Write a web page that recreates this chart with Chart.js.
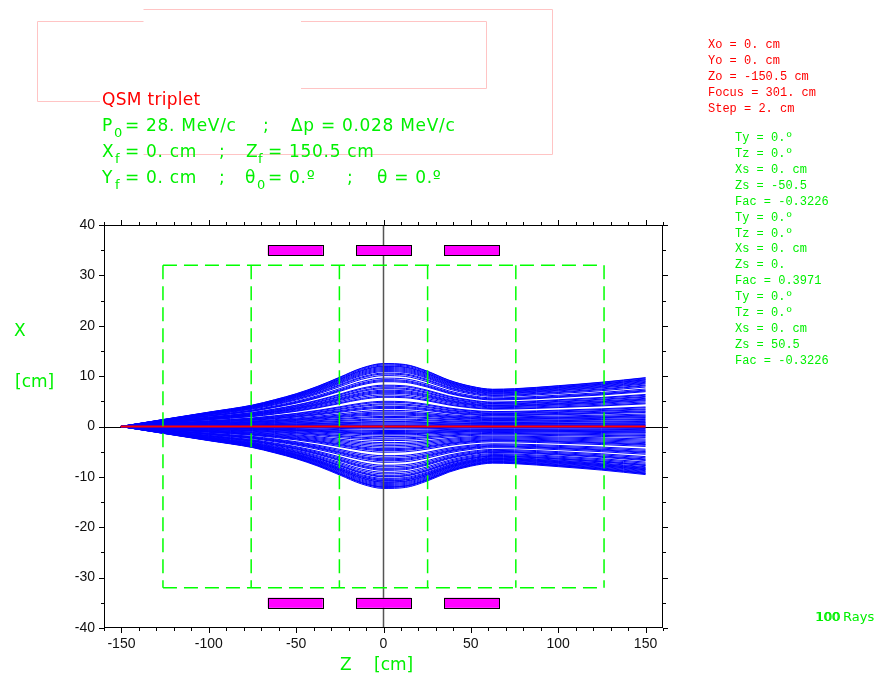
<!DOCTYPE html>
<html>
<head>
<meta charset="utf-8">
<script src="https://cdn.jsdelivr.net/npm/chart.js@4/dist/chart.umd.min.js"></script>
<style>
  html, body { margin: 0; padding: 0; background: #fff; }
</style>
</head>
<body>
<canvas id="chart" width="883" height="680"></canvas>
<script>
const zPoints = [-150.5, -125, -100, -75, -62.5, -50, -37.5, -25, -12.5, 0, 12.5, 25, 37.5, 50, 62.5, 75, 100, 125, 150];
// outermost ray X (cm) at those Z
const envelope = [0, 1.45, 2.85, 4.25, 5.3, 6.5, 8.0, 9.8, 11.6, 12.5, 12.3, 11.0, 9.2, 8.0, 7.4, 7.5, 8.1, 8.8, 9.7];
// X of each ray at Z = 0
const upperPeaks = [12.5, 12.4, 12.2, 12.0, 11.9, 11.7, 11.5, 11.3, 11.1, 10.9, 10.6, 10.4, 10.1, 9.6, 9.3, 9.1, 8.9, 8.2, 8.0, 7.7,
  7.5, 7.2, 7.0, 6.8, 6.6, 6.3, 6.0, 5.8, 5.0, 4.8, 4.5, 4.3, 4.0, 3.8, 3.6, 3.2, 2.9, 2.7, 2.5, 2.3,
  2.0, 1.8, 1.5, 1.3, 1.0, 0.9, 0.7, 0.5, 0.3, 0.2];
const lowerPeaks = [-0.1, -0.3, -0.5, -0.8, -1.0, -1.2, -1.4, -1.5, -1.7, -2.0, -2.3, -2.5, -2.8, -3.2, -3.5, -3.8, -4.1, -4.4, -4.6, -4.8,
  -5.1, -5.8, -6.1, -6.4, -6.6, -6.8, -7.1, -7.7, -8.0, -8.3, -8.5, -8.7, -9.1, -9.4, -9.7, -9.9, -10.0, -10.3, -10.5, -10.7,
  -10.8, -11.0, -11.1, -11.3, -11.5, -11.7, -11.9, -12.0, -12.1, -12.3];
const centralRay = [[-150.5, 0], [150, 0]];

// tick labels
const xTicks = [-150, -100, -50, 0, 50, 100, 150];
const yTicks = [-40, -30, -20, -10, 0, 10, 20, 30, 40];

// quadrupoles
const quadCenters = [-50.5, 0, 50.5];
const quadHalfLength = 15.75;
const fieldHalfLength = 75.75;
const apertureX = 32;
const poleInner = 34, poleOuter = 36;

// side text
const sourceLines = ['Xo = 0. cm', 'Yo = 0. cm', 'Zo = -150.5 cm', 'Focus = 301. cm', 'Step = 2. cm'];
const quadLines = ['Ty = 0.º', 'Tz = 0.º', 'Xs = 0. cm', 'Zs = -50.5', 'Fac = -0.3226',
  'Ty = 0.º', 'Tz = 0.º', 'Xs = 0. cm', 'Zs = 0.', 'Fac = 0.3971',
  'Ty = 0.º', 'Tz = 0.º', 'Xs = 0. cm', 'Zs = 50.5', 'Fac = -0.3226'];

const GREEN = '#00f000';
const peakAtZero = envelope[zPoints.indexOf(0)];

function rayData(peak) {
  return zPoints.map((z, i) => ({ x: z, y: envelope[i] * peak / peakAtZero }));
}

const datasets = [];
upperPeaks.concat(lowerPeaks).forEach(p => {
  datasets.push({
    data: rayData(p),
    borderColor: '#0000ff',
    borderWidth: 1,
    pointRadius: 0,
    cubicInterpolationMode: 'monotone'
  });
});
datasets.push({
  data: centralRay.map(p => ({ x: p[0], y: p[1] })),
  borderColor: '#ff0000',
  borderWidth: 2,
  pointRadius: 0,
  order: -1
});

function txt(ctx, s, x, y, font, color, align, spacing) {
  ctx.font = font;
  ctx.fillStyle = color;
  ctx.textAlign = align || 'left';
  ctx.textBaseline = 'middle';
  ctx.letterSpacing = spacing || '0px';
  ctx.fillText(s, x, y);
}

const beamPlugin = {
  id: 'beam',
  beforeDatasetsDraw(chart) {
    const { ctx, chartArea: a, scales: { x, y } } = chart;
    ctx.save();
    ctx.strokeStyle = '#000';
    ctx.lineWidth = 1;
    const y0 = Math.round(y.getPixelForValue(0)) + 0.5;
    ctx.beginPath(); ctx.moveTo(a.left, y0); ctx.lineTo(a.right, y0); ctx.stroke();
    ctx.restore();
  },
  afterDatasetsDraw(chart) {
    const { ctx, chartArea: a, scales: { x, y } } = chart;
    ctx.save();
    // z = 0 line
    ctx.strokeStyle = '#555';
    ctx.lineWidth = 1.5;
    const x0 = x.getPixelForValue(0);
    ctx.beginPath(); ctx.moveTo(x0, a.top); ctx.lineTo(x0, a.bottom); ctx.stroke();

    // field boundaries (green dashed)
    ctx.strokeStyle = '#00ff00';
    ctx.lineWidth = 1.5;
    ctx.setLineDash([14, 7]);
    const zMin = quadCenters[0] - fieldHalfLength, zMax = quadCenters[quadCenters.length - 1] + fieldHalfLength;
    [apertureX, -apertureX].forEach(v => {
      ctx.beginPath();
      ctx.moveTo(x.getPixelForValue(zMin), y.getPixelForValue(v));
      ctx.lineTo(x.getPixelForValue(zMax), y.getPixelForValue(v));
      ctx.stroke();
    });
    quadCenters.forEach(c => {
      [c - fieldHalfLength, c + fieldHalfLength].forEach(z => {
        ctx.beginPath();
        ctx.moveTo(x.getPixelForValue(z), y.getPixelForValue(apertureX));
        ctx.lineTo(x.getPixelForValue(z), y.getPixelForValue(-apertureX));
        ctx.stroke();
      });
    });
    ctx.setLineDash([]);

    // pole tips
    ctx.fillStyle = '#ff00ff';
    ctx.strokeStyle = '#000';
    ctx.lineWidth = 1;
    quadCenters.forEach(c => {
      const l = x.getPixelForValue(c - quadHalfLength), r = x.getPixelForValue(c + quadHalfLength);
      [[poleOuter, poleInner], [-poleInner, -poleOuter]].forEach(([t, b]) => {
        const top = y.getPixelForValue(t), bot = y.getPixelForValue(b);
        ctx.fillRect(l, top, r - l, bot - top);
        ctx.strokeRect(Math.round(l) + 0.5, Math.round(top) + 0.5, Math.round(r - l), Math.round(bot - top));
      });
    });

    // frame and ticks
    ctx.strokeStyle = '#000';
    ctx.lineWidth = 1;
    ctx.strokeRect(a.left + 0.5, a.top + 0.5, a.right - a.left - 1, a.bottom - a.top - 1);
    ctx.beginPath();
    for (let v = -160; v <= 160; v += 10) {
      const px = Math.round(x.getPixelForValue(v)) + 0.5;
      const len = v % 50 === 0 ? 5 : 3;
      ctx.moveTo(px, a.top); ctx.lineTo(px, a.top - len);
      ctx.moveTo(px, a.bottom); ctx.lineTo(px, a.bottom + len);
    }
    for (let v = -40; v <= 40; v += 5) {
      const py = Math.round(y.getPixelForValue(v)) + 0.5;
      const len = v % 10 === 0 ? 5 : 3;
      ctx.moveTo(a.left, py); ctx.lineTo(a.left - len, py);
      ctx.moveTo(a.right, py); ctx.lineTo(a.right + len, py);
    }
    ctx.stroke();
    ctx.restore();
  },
  afterDraw(chart) {
    const ctx = chart.ctx;
    ctx.save();
    // pink boxes
    ctx.strokeStyle = '#ffc4c4';
    ctx.lineWidth = 1;
    const seg = (x1, y1, x2, y2) => { ctx.beginPath(); ctx.moveTo(x1, y1); ctx.lineTo(x2, y2); ctx.stroke(); };
    seg(37.5, 21.5, 143.5, 21.5);
    seg(37.5, 21.5, 37.5, 101.5);
    seg(37.5, 101.5, 100, 101.5);
    seg(143.5, 9.5, 552.5, 9.5);
    seg(552.5, 9.5, 552.5, 154.5);
    seg(143.5, 154.5, 552.5, 154.5);
    seg(301, 21.5, 486.5, 21.5);
    seg(486.5, 21.5, 486.5, 88.5);
    seg(301, 88.5, 486.5, 88.5);

    const big = '17px "DejaVu Sans"', sub = '13px "DejaVu Sans"', sp = '0.7px';
    txt(ctx, 'QSM triplet', 102, 101, big, '#ff0000', 'left', '0.3px');
    txt(ctx, 'P', 102, 127, big, GREEN);
    txt(ctx, '0', 114, 134, sub, GREEN);
    txt(ctx, '= 28. MeV/c', 125, 127, big, GREEN, 'left', sp);
    txt(ctx, ';', 263, 127, big, GREEN);
    txt(ctx, 'Δp = 0.028 MeV/c', 291, 127, big, GREEN, 'left', sp);
    txt(ctx, 'X', 102, 153, big, GREEN);
    txt(ctx, 'f', 115, 160, sub, GREEN);
    txt(ctx, '= 0. cm', 125, 153, big, GREEN, 'left', sp);
    txt(ctx, ';', 219, 153, big, GREEN);
    txt(ctx, 'Z', 246, 153, big, GREEN);
    txt(ctx, 'f', 258, 160, sub, GREEN);
    txt(ctx, '= 150.5 cm', 268, 153, big, GREEN, 'left', sp);
    txt(ctx, 'Y', 102, 179, big, GREEN);
    txt(ctx, 'f', 115, 186, sub, GREEN);
    txt(ctx, '= 0. cm', 125, 179, big, GREEN, 'left', sp);
    txt(ctx, ';', 219, 179, big, GREEN);
    txt(ctx, 'θ', 245, 179, big, GREEN);
    txt(ctx, '0', 257, 186, sub, GREEN);
    txt(ctx, '= 0.º', 268, 179, big, GREEN, 'left', sp);
    txt(ctx, ';', 347, 179, big, GREEN);
    txt(ctx, 'θ = 0.º', 377, 179, big, GREEN, 'left', sp);

    const mono = '12px "Liberation Mono"';
    sourceLines.forEach((s, i) => txt(ctx, s, 708, 45 + i * 16, mono, '#ff0000'));
    quadLines.forEach((s, i) => txt(ctx, s, 735, 138 + i * 15.9, mono, GREEN));

    // axis titles
    const ax = '17px "DejaVu Sans"';
    txt(ctx, 'X', 14, 332, ax, GREEN);
    txt(ctx, '[cm]', 15, 383, ax, GREEN);
    txt(ctx, 'Z', 340, 666, ax, GREEN);
    txt(ctx, '[cm]', 374, 666, ax, GREEN);

    const small = '13px "DejaVu Sans"';
    txt(ctx, '100', 815, 618, small, GREEN);
    txt(ctx, '100', 816, 618, small, GREEN);
    txt(ctx, 'Rays', 843, 618, small, GREEN);
    ctx.restore();
  }
};

new Chart(document.getElementById('chart'), {
  type: 'line',
  data: { datasets },
  options: {
    responsive: false,
    animation: false,
    parsing: true,
    layout: { padding: { left: 0, top: 225, right: 220, bottom: 0 } },
    plugins: { legend: { display: false }, tooltip: { enabled: false } },
    scales: {
      x: {
        type: 'linear',
        min: -160,
        max: 160,
        afterBuildTicks: s => { s.ticks = xTicks.map(v => ({ value: v })); },
        afterFit: s => { s.height = 52; },
        grid: { display: false, drawTicks: false },
        border: { display: false },
        ticks: { padding: 8, color: '#111', font: { family: 'Liberation Sans', size: 14 }, maxRotation: 0, autoSkip: false }
      },
      y: {
        type: 'linear',
        min: -40,
        max: 40,
        afterBuildTicks: s => { s.ticks = yTicks.map(v => ({ value: v })); },
        afterFit: s => { s.width = 104; },
        grid: { display: false, drawTicks: false },
        border: { display: false },
        ticks: { padding: 9, color: '#111', font: { family: 'Liberation Sans', size: 14 }, autoSkip: false }
      }
    }
  },
  plugins: [beamPlugin]
});
</script>
</body>
</html>
